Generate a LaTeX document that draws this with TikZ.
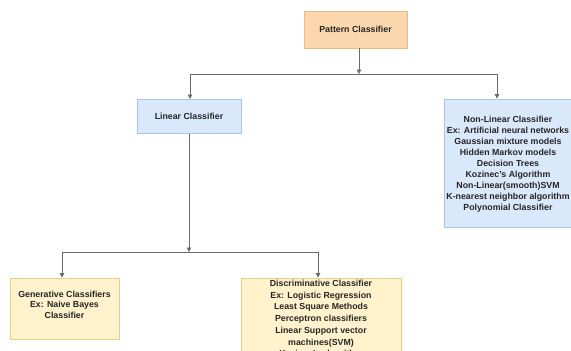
\documentclass[tikz,border=0pt]{standalone}
\usepackage{fontspec}
\setmainfont{Liberation Sans}
\usetikzlibrary{arrows.meta}
\definecolor{orfill}{HTML}{FAD7AC}
\definecolor{ordraw}{HTML}{F2B880}
\definecolor{blfill}{HTML}{DAE8FC}
\definecolor{bldraw}{HTML}{A9C4EB}
\definecolor{yefill}{HTML}{FFF2CC}
\definecolor{yedraw}{HTML}{E8CF86}
\definecolor{lncol}{HTML}{6A6A6A}
\begin{document}
\begin{tikzpicture}[x=1pt,y=-1pt,
  box/.style={rectangle, draw, line width=0.8pt, inner sep=0pt, align=center,
    font=\fontsize{8.8}{11}\selectfont\bfseries, text=black!85},
  txt/.style={inner sep=0pt, align=center, font=\fontsize{8.8}{11}\selectfont\bfseries, text=black!85},
  conn/.style={draw=lncol, line width=0.9pt},
  arr/.style={conn, -{Triangle[length=4.5pt,width=4.5pt]}}]
\useasboundingbox (0,0) rectangle (571,351);
\clip (0,0) rectangle (571,351);
% boxes
\node[box, fill=orfill, draw=ordraw, minimum width=103pt, minimum height=37pt] (pat) at (355.5,29.5) {Pattern Classifier};
\node[box, fill=blfill, draw=bldraw, minimum width=104pt, minimum height=34pt] (lin) at (189,116.5) {Linear Classifier};
\node[box, fill=blfill, draw=bldraw, minimum width=128pt, minimum height=128pt] (nl) at (508,163) {};
\node[txt] (nltxt) at (508,164) {Non-Linear Classifier\\Ex: Artificial neural networks\\Gaussian mixture models\\Hidden Markov models\\Decision Trees\\Kozinec's Algorithm\\Non-Linear(smooth)SVM\\K-nearest neighbor algorithm\\Polynomial Classifier};
\node[box, fill=yefill, draw=yedraw, minimum width=109pt, minimum height=61pt] (gen) at (64.5,308.5) {};
\node[txt, font=\fontsize{8.8}{10.5}\selectfont\bfseries] (gentxt) at (64.5,304.5) {Generative Classifiers\\Ex: Naive Bayes\\Classifier};
\node[box, fill=yefill, draw=yedraw, minimum width=160pt, minimum height=100pt] (dis) at (321,328) {};
\node[txt, anchor=north, font=\fontsize{8.8}{11.7}\selectfont\bfseries] (distxt) at (321,280) {Discriminative Classifier\\Ex: Logistic Regression\\Least Square Methods\\Perceptron classifiers\\Linear Support vector\\machines(SVM)\\Kozinec's algorithm};
% junctions
\coordinate (j1) at (359,74);
\coordinate (j1l) at (190,74);
\coordinate (j1r) at (497,74);
\coordinate (j2) at (189,252);
\coordinate (j2l) at (62,252);
\coordinate (j2r) at (318,252);
% connectors
\draw[arr] (pat.south -| j1) -- (j1);
\draw[conn] (j1l) -- (j1r);
\draw[arr] (j1l) -- (lin.north -| j1l);
\draw[arr] (j1r) -- (nl.north -| j1r);
\draw[arr] (lin.south -| j2) -- (j2);
\draw[conn] (j2l) -- (j2r);
\draw[arr] (j2l) -- (gen.north -| j2l);
\draw[arr] (j2r) -- (dis.north -| j2r);
\end{tikzpicture}
\end{document}
